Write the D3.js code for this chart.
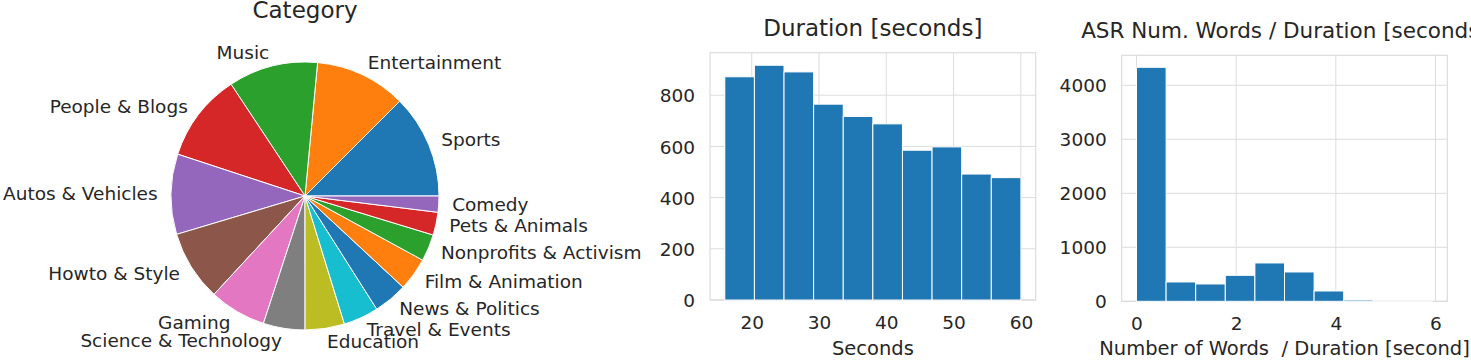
<!DOCTYPE html>
<html>
<head>
<meta charset="utf-8">
<script src="https://cdn.jsdelivr.net/npm/d3@7"></script>
<style>
  html, body { margin: 0; padding: 0; background: #ffffff; }
  svg { display: block; }
  text { font-family: "DejaVu Sans", sans-serif; fill: #262626; white-space: pre; }
</style>
</head>
<body>
<svg id="chart" width="1471" height="360"></svg>
<script>
// ---------------- DATA ----------------
const categories = ["Sports", "Entertainment", "Music", "People & Blogs", "Autos & Vehicles",
  "Howto & Style", "Gaming", "Science & Technology", "Education", "Travel & Events",
  "News & Politics", "Film & Animation", "Nonprofits & Activism", "Pets & Animals", "Comedy"];
const categoryCounts = [875, 770, 756, 745, 677, 595, 480, 352, 332, 297, 286, 278, 227, 193, 136];

const durationBinEdges = [16, 20.4, 24.8, 29.2, 33.6, 38, 42.4, 46.8, 51.2, 55.6, 60];
const durationCounts = [872, 917, 891, 765, 717, 688, 585, 598, 492, 478];
const durationTicks = [20, 30, 40, 50, 60];
const durationYTicks = [0, 200, 400, 600, 800];

const wpsBinEdges = [0, 0.594, 1.188, 1.782, 2.376, 2.97, 3.564, 4.158, 4.752, 5.346, 5.94];
const wpsCounts = [4333, 358, 321, 481, 710, 543, 191, 25, 2, 1];
const wpsTicks = [0, 2, 4, 6];
const wpsYTicks = [0, 1000, 2000, 3000, 4000];

const tab10 = ["#1f77b4", "#ff7f0e", "#2ca02c", "#d62728", "#9467bd",
  "#8c564b", "#e377c2", "#7f7f7f", "#bcbd22", "#17becf"];

// ---------------- SETUP ----------------
const svg = d3.select("#chart");
const FS = 18.5, LABEL_FS = 19.5, TITLE_FS = 23;
const gridColor = "#dcdcdc";

// ---------------- PIE ----------------
(function () {
  const cx = 305, cy = 196, r = 134;
  const g = svg.append("g").attr("transform", `translate(${cx},${cy})`);
  const pie = d3.pie().sort(null).value(d => d)
    .startAngle(Math.PI / 2).endAngle(Math.PI / 2 - 2 * Math.PI);
  const arcs = pie(categoryCounts);
  const arc = d3.arc().innerRadius(0).outerRadius(r);
  g.selectAll("path.slice").data(arcs).join("path")
    .attr("class", "slice")
    .attr("d", arc)
    .attr("fill", (d, i) => tab10[i % 10])
    .attr("stroke", "#ffffff")
    .attr("stroke-width", 1);
  const R = r * 1.1;
  g.selectAll("text.lbl").data(arcs).join("text")
    .attr("class", "lbl")
    .attr("x", d => R * Math.sin((d.startAngle + d.endAngle) / 2))
    .attr("y", d => -R * Math.cos((d.startAngle + d.endAngle) / 2))
    .attr("dy", "0.32em")
    .attr("text-anchor", d => Math.sin((d.startAngle + d.endAngle) / 2) >= 0 ? "start" : "end")
    .style("font-size", FS + "px")
    .text((d, i) => categories[i]);
  svg.append("text")
    .attr("x", cx).attr("y", 18)
    .attr("text-anchor", "middle")
    .style("font-size", TITLE_FS + "px")
    .text("Category");
})();

// ---------------- HISTOGRAM helper ----------------
function histogram(opts) {
  const { left, right, top, bottom, xDomain, yDomain, edges, counts, xTicks, yTicks, title, xLabel, titleSize } = opts;
  const x = d3.scaleLinear().domain(xDomain).range([left, right]);
  const y = d3.scaleLinear().domain(yDomain).range([bottom, top]);
  const g = svg.append("g");

  // grid
  g.selectAll("line.hg").data(yTicks).join("line")
    .attr("x1", left).attr("x2", right)
    .attr("y1", d => y(d)).attr("y2", d => y(d))
    .attr("stroke", gridColor).attr("stroke-width", 1);
  g.selectAll("line.vg").data(xTicks).join("line")
    .attr("y1", top).attr("y2", bottom)
    .attr("x1", d => x(d)).attr("x2", d => x(d))
    .attr("stroke", gridColor).attr("stroke-width", 1);
  // frame
  g.append("rect")
    .attr("x", left).attr("y", top)
    .attr("width", right - left).attr("height", bottom - top)
    .attr("fill", "none").attr("stroke", gridColor).attr("stroke-width", 1.2);

  // bars
  g.selectAll("rect.bar").data(counts).join("rect")
    .attr("class", "bar")
    .attr("x", (d, i) => x(edges[i]))
    .attr("width", (d, i) => x(edges[i + 1]) - x(edges[i]))
    .attr("y", d => y(d))
    .attr("height", d => y(0) - y(d))
    .attr("fill", "#1f77b4")
    .attr("stroke", "#ffffff")
    .attr("stroke-width", 1);

  // axes (no tick lines, seaborn whitegrid style)
  const xAxis = d3.axisBottom(x).tickValues(xTicks).tickSize(0).tickPadding(0).tickFormat(d3.format("d"));
  const gx = g.append("g").attr("transform", `translate(0,${bottom})`).call(xAxis);
  gx.select(".domain").remove();
  gx.selectAll("text").attr("y", 29).attr("dy", 0).style("font-size", FS + "px").attr("fill", "#262626");

  const yAxis = d3.axisLeft(y).tickValues(yTicks).tickSize(0).tickPadding(15).tickFormat(d3.format("d"));
  const gy = g.append("g").attr("transform", `translate(${left},0)`).call(yAxis);
  gy.select(".domain").remove();
  gy.selectAll("text").attr("dy", "0.36em").style("font-size", FS + "px").attr("fill", "#262626");
  svg.selectAll(".tick text").style("font-family", "DejaVu Sans, sans-serif");

  // title & label
  svg.append("text")
    .attr("x", (left + right) / 2).attr("y", top - 17)
    .attr("text-anchor", "middle")
    .style("font-size", (titleSize || TITLE_FS) + "px")
    .text(title);
  svg.append("text")
    .attr("x", (left + right) / 2).attr("y", 355)
    .attr("text-anchor", "middle")
    .style("font-size", LABEL_FS + "px")
    .text(xLabel);
}

histogram({
  left: 710, right: 1035.7, top: 52.7, bottom: 300,
  xDomain: [13.8, 62.2], yDomain: [0, 966],
  edges: durationBinEdges, counts: durationCounts,
  xTicks: durationTicks, yTicks: durationYTicks,
  title: "Duration [seconds]", xLabel: "Seconds"
});

histogram({
  left: 1121.7, right: 1447.3, top: 55.3, bottom: 301.3,
  xDomain: [-0.297, 6.237], yDomain: [0, 4555],
  edges: wpsBinEdges, counts: wpsCounts,
  xTicks: wpsTicks, yTicks: wpsYTicks,
  title: "ASR Num. Words / Duration [seconds]", xLabel: "Number of Words  / Duration [second]",
  titleSize: 21.5
});
</script>
</body>
</html>
